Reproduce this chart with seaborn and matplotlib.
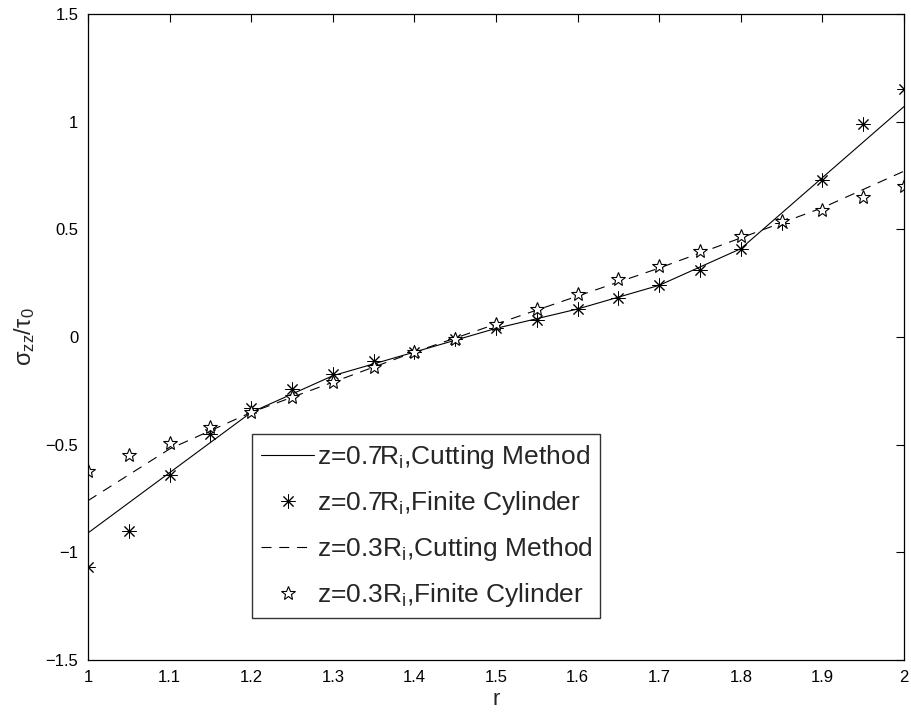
import numpy as np
import pandas as pd
import matplotlib
matplotlib.use("Agg")
import matplotlib.pyplot as plt
import seaborn as sns

# radial positions
r_line = [1.0, 1.1, 1.2, 1.3, 1.4, 1.5, 1.6, 1.7, 1.8, 1.9, 2.0]
r_pts = [1.0, 1.05, 1.1, 1.15, 1.2, 1.25, 1.3, 1.35, 1.4, 1.45, 1.5,
         1.55, 1.6, 1.65, 1.7, 1.75, 1.8, 1.85, 1.9, 1.95, 2.0]

# z = 0.7 Ri
cut_07 = [-0.91, -0.63, -0.35, -0.18, -0.07, 0.04, 0.13, 0.24, 0.41, 0.74, 1.07]
cyl_07 = [-1.07, -0.90, -0.64, -0.45, -0.33, -0.24, -0.17, -0.11, -0.07, -0.01, 0.04,
          0.08, 0.13, 0.18, 0.24, 0.31, 0.41, 0.53, 0.73, 0.99, 1.15]

# z = 0.3 Ri
cut_03 = [-0.76, -0.52, -0.35, -0.21, -0.07, 0.06, 0.19, 0.32, 0.46, 0.60, 0.77]
cyl_03 = [-0.62, -0.55, -0.49, -0.42, -0.35, -0.28, -0.21, -0.14, -0.07, -0.01, 0.06,
          0.13, 0.20, 0.27, 0.33, 0.40, 0.47, 0.54, 0.59, 0.65, 0.70]

x_ticks = [1.0, 1.1, 1.2, 1.3, 1.4, 1.5, 1.6, 1.7, 1.8, 1.9, 2.0]
x_labels = ["1", "1.1", "1.2", "1.3", "1.4", "1.5", "1.6", "1.7", "1.8", "1.9", "2"]
y_ticks = [-1.5, -1.0, -0.5, 0.0, 0.5, 1.0, 1.5]
y_labels = ["\u22121.5", "\u22121", "\u22120.5", "0", "0.5", "1", "1.5"]

labels = [r"z=0.7R$_{\mathrm{i}}$,Cutting Method",
          r"z=0.7R$_{\mathrm{i}}$,Finite Cylinder",
          r"z=0.3R$_{\mathrm{i}}$,Cutting Method",
          r"z=0.3R$_{\mathrm{i}}$,Finite Cylinder"]

sns.set_theme(style="white")
plt.rcParams["font.family"] = ["Liberation Sans", "DejaVu Sans"]
plt.rcParams["mathtext.fontset"] = "custom"
plt.rcParams["mathtext.rm"] = "Liberation Sans"
plt.rcParams["mathtext.it"] = "Liberation Sans"
plt.rcParams["mathtext.sf"] = "Liberation Sans"

fig = plt.figure(figsize=(9.11, 7.17), dpi=100)
ax = fig.add_axes([0.0966, 0.0795, 0.8957, 0.901])

lines_df = pd.DataFrame({"r": r_line, "c07": cut_07, "c03": cut_03})
pts_df = pd.DataFrame({"r": r_pts, "f07": cyl_07, "f03": cyl_03})

sns.lineplot(data=lines_df, x="r", y="c07", ax=ax, color="black", lw=0.8,
             label=labels[0])
sns.lineplot(data=pts_df, x="r", y="f07", ax=ax, color="black", linestyle="none",
             marker=(8, 2, 0), markersize=10, markeredgewidth=0.7,
             markeredgecolor="black", label=labels[1])
sns.lineplot(data=lines_df, x="r", y="c03", ax=ax, color="black", lw=0.8,
             dashes=False, label=labels[2]).lines[-1].set_dashes((9, 7))
sns.lineplot(data=pts_df, x="r", y="f03", ax=ax, color="black", linestyle="none",
             marker="*", markersize=10, markeredgewidth=0.8,
             markerfacecolor="white", markeredgecolor="black", label=labels[3])

ax.set_xlim(1, 2)
ax.set_ylim(-1.5, 1.5)
ax.set_xticks(x_ticks)
ax.set_xticklabels(x_labels)
ax.set_yticks(y_ticks)
ax.set_yticklabels(y_labels)
ax.tick_params(direction="in", length=6, width=0.8, top=True, right=True,
               labelsize=12, colors="black", pad=7)
for s in ax.spines.values():
    s.set_color("black")
    s.set_linewidth(0.9)
    s.set_visible(True)

ax.set_xlabel("r", fontsize=16, labelpad=3)
ax.set_ylabel(r"$\mathrm{\sigma_{zz}/\tau_0}$", fontsize=17, labelpad=6)

leg = ax.legend(loc="lower left", bbox_to_anchor=(0.201, 0.065, 0.426, 0.286),
                mode="expand", fontsize=19, frameon=True, fancybox=False,
                handlelength=2.0, handletextpad=0.1, borderpad=0.35,
                labelspacing=0.68, borderaxespad=0)
leg.get_frame().set_edgecolor("black")
leg.get_frame().set_linewidth(1.0)

fig.savefig("out.png", dpi=100)
